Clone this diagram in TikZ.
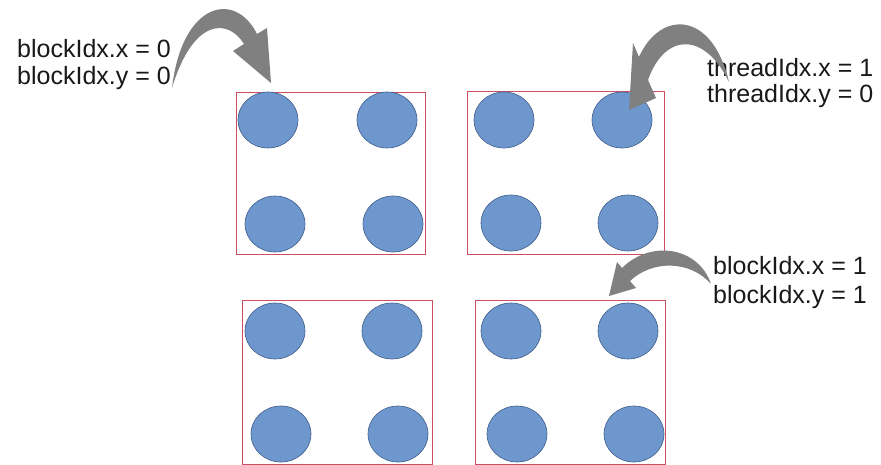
\documentclass[tikz,border=0pt]{standalone}
\usepackage{fontspec}
\setmainfont{Liberation Sans}
\usetikzlibrary{shapes.geometric}
\definecolor{boxred}{RGB}{205,78,95}
\definecolor{dotfill}{RGB}{110,152,205}
\definecolor{dotline}{RGB}{62,92,140}
\definecolor{arrowgray}{RGB}{128,128,128}
\definecolor{txt}{RGB}{25,25,25}
\tikzset{
  blockbox/.style={draw=boxred,line width=0.9pt},
  dot/.style={ellipse,draw=dotline,fill=dotfill,line width=0.6pt,minimum width=60pt,minimum height=56pt,inner sep=0pt},
  lbl/.style={anchor=base west,inner sep=0pt,text=txt,font=\fontsize{25}{27}\selectfont},
  bigarrow/.style={fill=arrowgray}
}
\begin{document}
\begin{tikzpicture}[x=1pt,y=-1pt]
\useasboundingbox[fill=white] (0,0) rectangle (881,465);
% blocks
\draw[blockbox] (236,92) rectangle (425,254);
\draw[blockbox] (467,91) rectangle (664,254);
\draw[blockbox] (242,300) rectangle (432,464);
\draw[blockbox] (475,300) rectangle (665,464);
% threads block (0,0)
\node[dot] (a1) at (268,120) {};
\node[dot] (a2) at (387,120) {};
\node[dot] (a3) at (275,224) {};
\node[dot] (a4) at (393,224) {};
% block (1,0)
\node[dot] (b1) at (504,120) {};
\node[dot] (b2) at (622,120) {};
\node[dot] (b3) at (511,223) {};
\node[dot] (b4) at (628,223) {};
% block (0,1)
\node[dot] (c1) at (275,331) {};
\node[dot] (c2) at (392,331) {};
\node[dot] (c3) at (281,434) {};
\node[dot] (c4) at (398,434) {};
% block (1,1)
\node[dot] (d1) at (511,331) {};
\node[dot] (d2) at (628,331) {};
\node[dot] (d3) at (517,434) {};
\node[dot] (d4) at (634,434) {};
% labels
\node[lbl] (l1a) at (17,58) {blockIdx.x = 0};
\node[lbl] (l1b) at (17,85) {blockIdx.y = 0};
\node[lbl] (l2a) at (707,77) {threadIdx.x = 1};
\node[lbl] (l2b) at (707,103) {threadIdx.y = 0};
\node[lbl] (l3a) at (713,275) {blockIdx.x = 1};
\node[lbl] (l3b) at (713,303) {blockIdx.y = 1};
% curved arrows
\fill[bigarrow] (172,88) .. controls (182,2) and (235,-10) .. (257,34) -- (267,28) -- (271,83) -- (233,51) -- (244,44) .. controls (228,18) and (193,18) .. (172,88);
\fill[bigarrow] (729,82) .. controls (712,10) and (660,10) .. (639,57) -- (633,43) -- (629,110) -- (656,98) -- (648,80) .. controls (665,32) and (705,32) .. (729,82);
\fill[bigarrow] (711,284) .. controls (698,246) and (650,240) .. (622,268) -- (617,262) -- (609,296) -- (636,288) -- (630,281) .. controls (652,260) and (690,260) .. (711,284);
\end{tikzpicture}
\end{document}
